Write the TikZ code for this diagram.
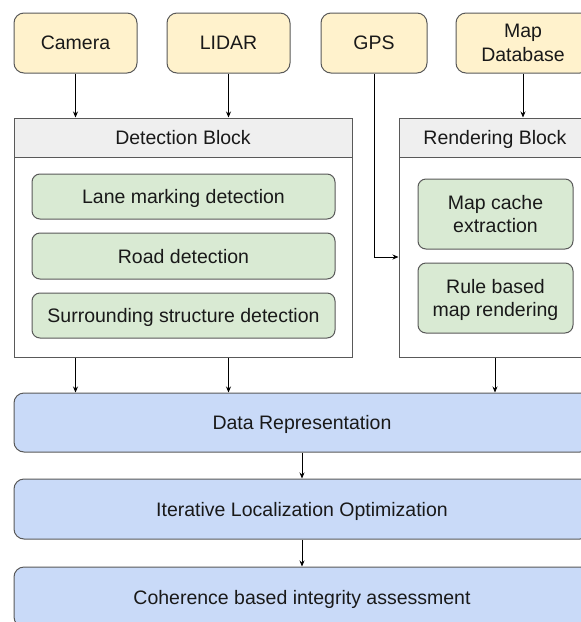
\documentclass[tikz,border=0pt]{standalone}
\usepackage{fontspec}
\setmainfont{Liberation Sans}
\usetikzlibrary{arrows.meta,calc}
\definecolor{ylw}{HTML}{FFF2CC}
\definecolor{grn}{HTML}{D9EAD3}
\definecolor{blu}{HTML}{C9DAF8}
\definecolor{hdr}{HTML}{EFEFEF}
\definecolor{edge}{HTML}{595959}
\begin{document}
\begin{tikzpicture}[x=1pt,y=-1pt,
  font=\fontsize{19.5}{23.5}\selectfont,
  box/.style={draw=edge, line width=1pt, rounded corners=10pt, align=center, inner sep=0pt, text=black!90, text depth=-1.5pt},
  src/.style={box, fill=ylw},
  sub/.style={box, fill=grn, rounded corners=8pt},
  main/.style={box, fill=blu},
  frame/.style={draw=edge, line width=1pt, inner sep=0pt, fill=white},
  hdrbox/.style={frame, fill=hdr, text=black!90, text depth=-1.5pt},
  arr/.style={-{Stealth[length=6pt,width=5pt]}, line width=0.8pt, black}]
\clip (0,0) rectangle (581,622);
\fill[white] (0,0) rectangle (581,622);
% sources
\node[src, minimum width=123pt, minimum height=60pt] (cam) at (75.5,43) {Camera};
\node[src, minimum width=123pt, minimum height=60pt] (lidar) at (228.5,43) {LIDAR};
\node[src, minimum width=106pt, minimum height=60pt] (gps) at (374,43) {GPS};
\node[src, minimum width=134pt, minimum height=60pt] (mapdb) at (523,43) {Map\\Database};
% detection block
\node[frame, minimum width=338pt, minimum height=239pt] (det) at (183,237.5) {};
\node[hdrbox, minimum width=338pt, minimum height=39pt] (dethdr) at (183,137.5) {Detection Block};
\node[sub, minimum width=303pt, minimum height=45pt] (lane) at (183.5,196.5) {Lane marking detection};
\node[sub, minimum width=303pt, minimum height=46pt] (road) at (183.5,256) {Road detection};
\node[sub, minimum width=303pt, minimum height=45pt] (surr) at (183.5,315.5) {Surrounding structure detection};
% rendering block
\node[frame, minimum width=192pt, minimum height=239pt] (rend) at (495,237.5) {};
\node[hdrbox, minimum width=192pt, minimum height=39pt] (rendhdr) at (495,137.5) {Rendering Block};
\node[sub, minimum width=155pt, minimum height=70pt] (cache) at (495.5,214) {Map cache\\extraction};
\node[sub, minimum width=155pt, minimum height=70pt] (rule) at (495.5,298) {Rule based\\map rendering};
% main pipeline
\node[main, minimum width=576pt, minimum height=59pt] (data) at (302,422.5) {Data Representation};
\node[main, minimum width=576pt, minimum height=60pt] (iter) at (302,509) {Iterative Localization Optimization};
\node[main, minimum width=576pt, minimum height=60pt] (coh) at (302,597) {Coherence based integrity assessment};
% connectors
\draw[arr] (cam.south) -- (cam.south |- dethdr.north);
\draw[arr] (lidar.south) -- (lidar.south |- dethdr.north);
\draw[arr] (mapdb.south) -- (mapdb.south |- rendhdr.north);
\coordinate (gpsin) at (rend.west |- 0,257);
\draw[arr] (gps.south) |- (gpsin);
\draw[arr] (det.south -| cam) -- (data.north -| cam);
\draw[arr] (det.south -| lidar) -- (data.north -| lidar);
\draw[arr] (rend.south) -- (data.north -| rend);
\draw[arr] (data.south) -- (iter.north);
\draw[arr] (iter.south) -- (coh.north);
\end{tikzpicture}
\end{document}
